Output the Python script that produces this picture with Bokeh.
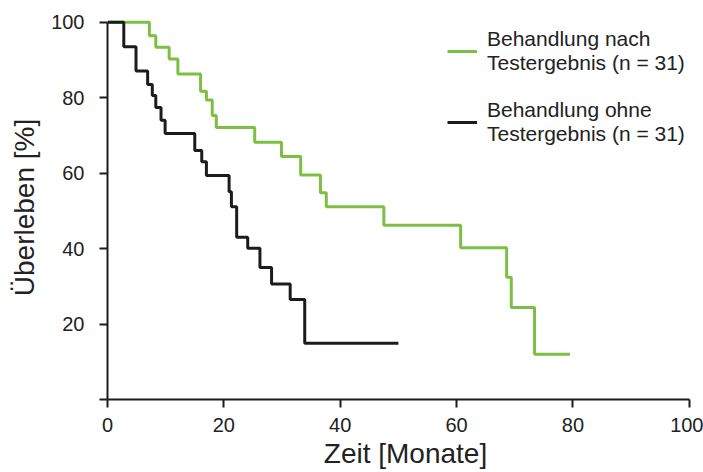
from bokeh.plotting import figure
from bokeh.models import Range1d, FixedTicker, Legend, LegendItem
from bokeh.embed import file_html
from bokeh.resources import INLINE

# Kaplan-Meier curves: time of each step (months) and survival after it (%)
green_t = [0, 7.2, 8.3, 10.6, 12.1, 16.0, 17.0, 18.0, 18.7, 25.3, 29.9, 33.2, 36.6, 37.6, 47.5, 60.7, 68.6, 69.4, 73.4, 79.5]
green_s = [100, 96.4, 93.4, 90.3, 86.3, 81.7, 79.4, 75.3, 72.1, 68.2, 64.4, 59.5, 54.8, 51.1, 46.2, 40.2, 32.4, 24.4, 12.0, 12.0]

black_t = [0, 2.8, 4.9, 6.9, 7.7, 8.3, 9.2, 9.9, 15.0, 16.2, 17.0, 20.9, 21.3, 22.2, 24.1, 26.2, 28.2, 31.4, 33.9, 50.0]
black_s = [100, 93.5, 87.1, 83.5, 80.6, 77.4, 74.0, 70.5, 66.0, 63.0, 59.4, 55.1, 51.1, 43.0, 40.1, 35.0, 30.6, 26.5, 14.9, 14.9]

x_ticks = [0, 20, 40, 60, 80, 100]
y_ticks = [0, 20, 40, 60, 80, 100]
legend_labels = ["Behandlung nach\nTestergebnis (n = 31)", "Behandlung ohne\nTestergebnis (n = 31)"]
x_title = "Zeit [Monate]"
y_title = "Überleben [%]"

GREEN = "#7DBF42"
BLACK = "#1C1C1C"
TEXT = "#222222"
FONT = "Liberation Sans"

p = figure(width=703, height=472, x_range=Range1d(0, 102.44), y_range=Range1d(0, 101.8),
           output_backend="svg", toolbar_location=None,
           min_border_left=107, min_border_right=0, min_border_top=15, min_border_bottom=73)
p.grid.visible = False
p.outline_line_color = None
p.background_fill_color = "white"
p.border_fill_color = "white"

r_g = p.step(green_t, green_s, mode="after", line_color=GREEN, line_width=3)
r_b = p.step(black_t, black_s, mode="after", line_color=BLACK, line_width=3)

for ax in (p.xaxis[0], p.yaxis[0]):
    ax.bounds = (0, 100)
    ax.axis_line_width = 2
    ax.axis_line_color = BLACK
    ax.major_tick_line_width = 2
    ax.major_tick_line_color = BLACK
    ax.major_tick_out = 8
    ax.major_tick_in = 0
    ax.minor_tick_line_color = None
    ax.major_label_text_font = FONT
    ax.major_label_text_font_size = "20px"
    ax.major_label_text_color = TEXT
    ax.axis_label_text_font = FONT
    ax.axis_label_text_font_size = "28px"
    ax.axis_label_text_font_style = "normal"
    ax.axis_label_text_color = TEXT

p.xaxis[0].ticker = FixedTicker(ticks=x_ticks)
p.yaxis[0].ticker = FixedTicker(ticks=y_ticks)
p.yaxis[0].major_label_overrides = {0: ""}
p.xaxis[0].axis_label = x_title
p.yaxis[0].axis_label = y_title
p.xaxis[0].major_label_standoff = 10
p.xaxis[0].axis_label_standoff = 3
p.yaxis[0].major_label_standoff = 15
p.yaxis[0].axis_label_standoff = 8

legend = Legend(items=[LegendItem(label=legend_labels[0], renderers=[r_g]),
                       LegendItem(label=legend_labels[1], renderers=[r_b])],
                location=(340, 253), glyph_width=30, glyph_height=20, label_standoff=10,
                spacing=23, padding=0, margin=0,
                background_fill_alpha=0, border_line_alpha=0,
                label_text_font=FONT, label_text_font_size="21px",
                label_text_color=TEXT, label_text_line_height=1.35)
p.add_layout(legend)

open("out.html", "w").write(file_html(p, INLINE))
